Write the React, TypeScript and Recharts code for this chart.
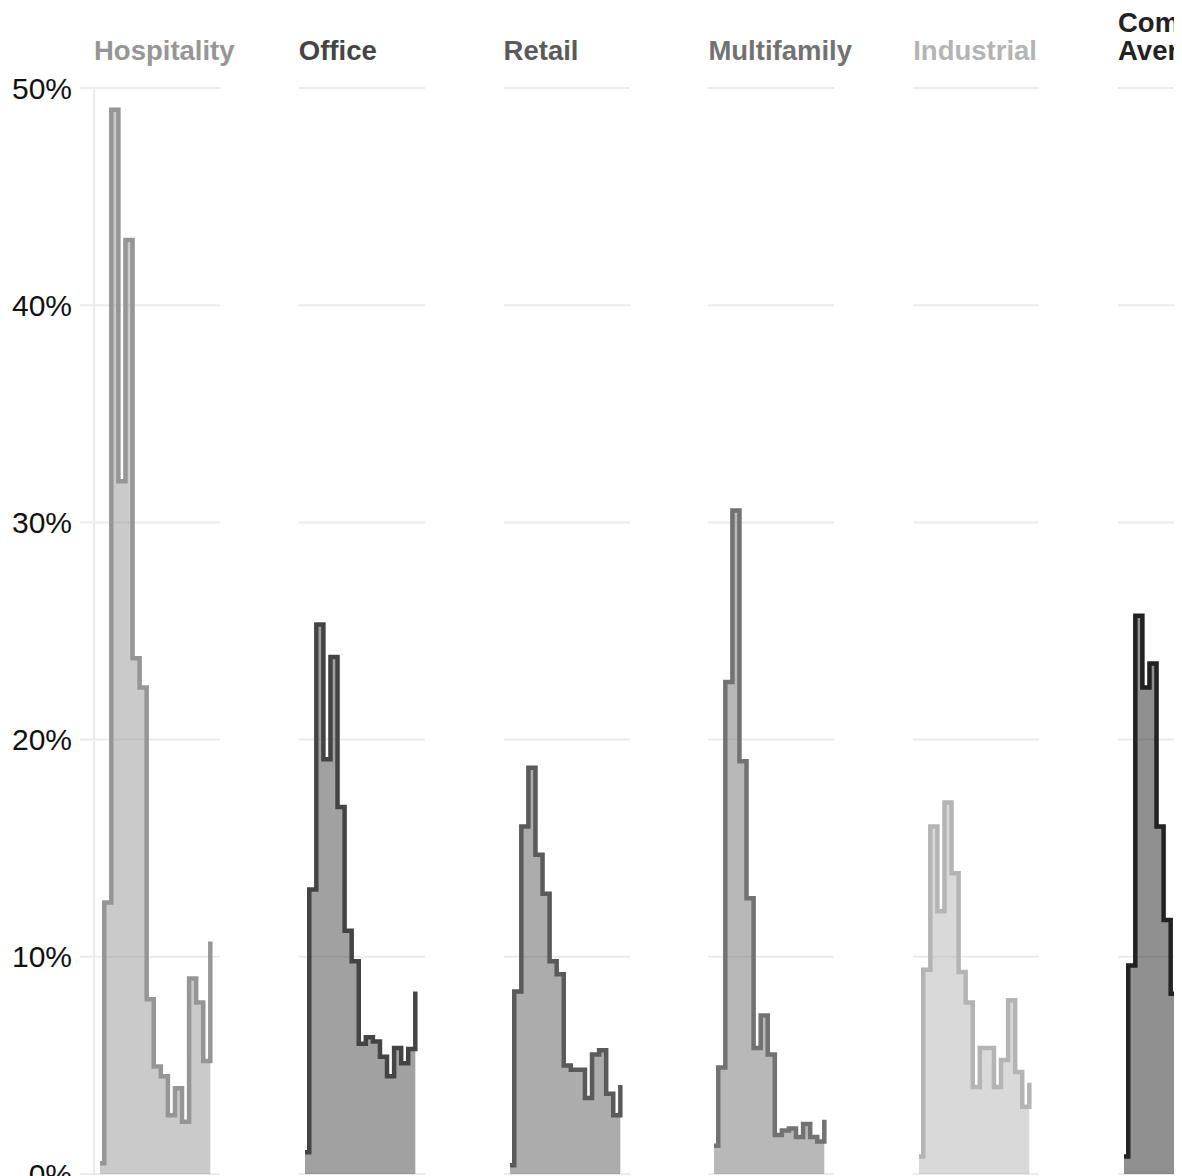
import React from 'react';
import { AreaChart, Area, XAxis, YAxis, CartesianGrid } from 'recharts';

// bin positions (first bin is a short lead-in step)
const BIN_X = [0, 0.6, 1.6, 2.6, 3.6, 4.6, 5.6, 6.6, 7.6, 8.6, 9.6, 10.6, 11.6, 12.6, 13.6, 14.6, 15.6];
const PCT_TICKS = [0, 10, 20, 30, 40, 50];

// share of loans per bin, %
const hospitality = [0.5, 12.5, 49.0, 31.9, 43.0, 23.75, 22.4, 8.05, 4.95, 4.5, 2.7, 3.95, 2.4, 9.0, 7.9, 5.2, 10.7];
const office = [1.0, 13.1, 25.3, 19.1, 23.8, 16.9, 11.2, 9.8, 6.0, 6.3, 6.1, 5.4, 4.5, 5.8, 5.1, 5.75, 8.4];
const retail = [0.4, 8.4, 16.0, 18.7, 14.7, 12.9, 9.8, 9.2, 5.0, 4.8, 4.8, 3.5, 5.5, 5.7, 3.7, 2.7, 4.1];
const multifamily = [1.3, 4.9, 22.65, 30.55, 19.0, 12.7, 5.8, 7.3, 5.5, 1.8, 2.0, 2.1, 1.7, 2.3, 1.7, 1.5, 2.5];
const industrial = [0.8, 9.4, 16.0, 12.1, 17.1, 13.85, 9.3, 7.9, 4.0, 5.8, 5.8, 4.0, 5.25, 8.0, 4.7, 3.1, 4.2];
const commercialAvg = [0.8, 9.6, 25.7, 22.4, 23.5, 16.0, 11.7, 8.3, 5.1, 4.6, 4.3, 3.8, 3.9, 6.2, 4.6, 3.6, 6.0];

const panels = [
  { title: ['Hospitality'], values: hospitality, color: '#969696' },
  { title: ['Office'], values: office, color: '#444444' },
  { title: ['Retail'], values: retail, color: '#5a5a5a' },
  { title: ['Multifamily'], values: multifamily, color: '#727272' },
  { title: ['Industrial'], values: industrial, color: '#b4b4b4' },
  { title: ['Commercial', 'Average'], values: commercialAvg, color: '#222222' },
];

const FONT = '"Liberation Sans", Arial, Helvetica, sans-serif';
const PLOT_LEFT = 94;
const PLOT_W = 126;
const STEP = 204.8;
const X_DOMAIN: [number, number] = [-0.85, 16.97];

function Panel({ idx }: { idx: number }) {
  const p = panels[idx];
  const data = BIN_X.map((x, i) => ({ x, v: p.values[i] }));
  const first = idx === 0;
  const left = first ? 0 : PLOT_LEFT + STEP * idx;
  const width = first ? PLOT_LEFT + PLOT_W : PLOT_W;
  const titleLeft = PLOT_LEFT + STEP * idx;

  return (
    <>
      <div
        style={{
          position: 'absolute',
          left: titleLeft,
          top: p.title.length > 1 ? 9.3 : 37.3,
          fontSize: 27.5,
          lineHeight: '28px',
          fontWeight: 'bold',
          color: p.color,
          whiteSpace: 'nowrap',
        }}
      >
        {p.title.map((t, i) => (
          <div key={i}>{t}</div>
        ))}
      </div>
      <div style={{ position: 'absolute', left, top: 0 }}>
        <AreaChart width={width} height={1200} data={data} margin={{ top: 88, right: 0, bottom: 26, left: 0 }}>
          <CartesianGrid vertical={false} stroke="#ebebeb" strokeWidth={2} />
          <XAxis dataKey="x" type="number" domain={X_DOMAIN} hide />
          <YAxis
            domain={[0, 50]}
            ticks={PCT_TICKS}
            hide={!first}
            width={PLOT_LEFT}
            tickSize={14}
            tickMargin={8}
            tickLine={{ stroke: '#ebebeb', strokeWidth: 2 }}
            axisLine={{ stroke: '#ebebeb', strokeWidth: 2 }}
            tick={{ fontSize: 30, fill: '#111', fontFamily: FONT }}
            tickFormatter={(v: number) => `${v}%`}
          />
          <Area
            type="stepAfter"
            dataKey="v"
            stroke={p.color}
            strokeWidth={4.5}
            strokeLinejoin="miter"
            fill={p.color}
            fillOpacity={0.5}
            dot={false}
            activeDot={false}
            isAnimationActive={false}
          />
        </AreaChart>
      </div>
    </>
  );
}

export default function App() {
  return (
    <div
      style={{
        position: 'fixed',
        left: 0,
        top: 0,
        width: 1174,
        height: 1176,
        overflow: 'hidden',
        background: '#fff',
        fontFamily: FONT,
      }}
    >
      {panels.map((_, i) => (
        <Panel key={i} idx={i} />
      ))}
    </div>
  );
}
